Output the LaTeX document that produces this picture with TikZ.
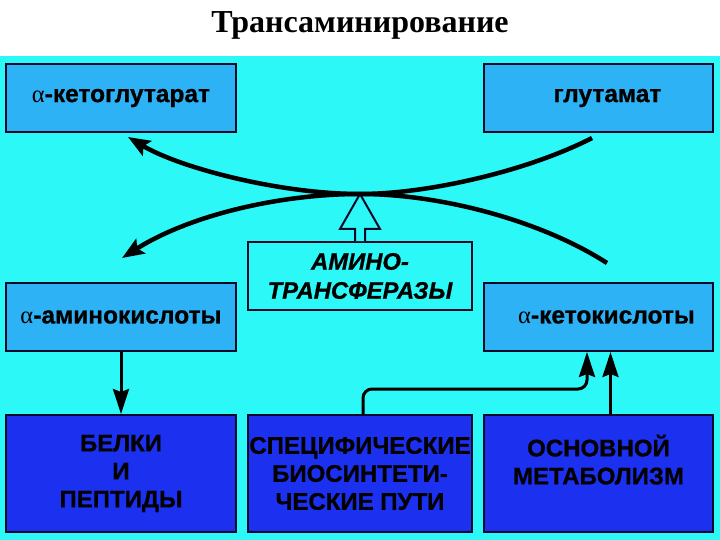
\documentclass[tikz,border=0pt]{standalone}
\usepackage{fontspec}
\setmainfont{Liberation Sans}
\newfontfamily\titlefont{Liberation Serif}
\newfontfamily\greekfont{Liberation Serif}
\newfontfamily\heavy[FakeBold=0.8]{Liberation Sans Bold}
\newfontfamily\heavyit[FakeBold=0.8]{Liberation Sans Bold Italic}
\usetikzlibrary{arrows.meta,calc}
\definecolor{bgcyan}{RGB}{45,248,248}
\definecolor{lightbox}{RGB}{45,178,245}
\definecolor{darkbox}{RGB}{28,48,240}
\definecolor{edgecol}{RGB}{10,10,40}
\newcommand{\galpha}{{\greekfont\mdseries α}}
\tikzset{
  basebox/.style={draw=edgecol, line width=2pt, inner sep=0pt, align=center, text=black},
  lbox/.style={basebox, fill=lightbox, minimum height=68pt, font=\heavy\fontsize{24.5}{28}\selectfont},
  dbox/.style={basebox, fill=darkbox, minimum height=117pt, font=\heavy\fontsize{24}{28}\selectfont},
  enzbox/.style={basebox, fill=bgcyan, minimum width=224pt, minimum height=68pt, font=\heavyit\fontsize{23.8}{29}\selectfont},
  curvearrow/.style={line width=4.5pt, -{Stealth[length=22pt,width=17pt,inset=4pt]}},
  curveline/.style={line width=4.5pt},
  straightarrow/.style={line width=3pt, -{Stealth[length=25pt,width=16pt,inset=3pt]}},
  hollowarrow/.style={draw=edgecol, line width=2pt, fill=bgcyan, line join=miter}
}
\begin{document}
\begin{tikzpicture}[x=1pt,y=-1pt]
\useasboundingbox (0,0) rectangle (720,540);
\fill[white] (0,0) rectangle (720,56);
\fill[bgcyan] (0,56) rectangle (720,540);

\node[anchor=base, font=\titlefont\bfseries\fontsize{32}{36}\selectfont] (title) at (360,33) {Трансаминирование};

% boxes
\node[lbox, minimum width=230pt] (kg) at (121,98) {\galpha-кетоглутарат};
\node[lbox, minimum width=229pt] (glu) at (598.5,98) {\hspace*{18pt}глутамат};
\node[lbox, minimum width=230pt] (ak) at (121,317) {\galpha-аминокислоты};
\node[lbox, minimum width=229pt] (keto) at (598.5,317) {\hspace*{16pt}\galpha-кетокислоты};
\node[enzbox] (amt) at (360,276) {АМИНО-\\ТРАНСФЕРАЗЫ};
\node[dbox, minimum width=230pt] (bel) at (121,473.5) {БЕЛКИ\\И\\ПЕПТИДЫ};
\node[dbox, minimum width=224pt] (spec) at (360,473.5) {СПЕЦИФИЧЕСКИЕ\\БИОСИНТЕТИ-\\ЧЕСКИЕ ПУТИ};
\node[dbox, minimum width=229pt] (osn) at (598.5,473.5) {ОСНОВНОЙ\\МЕТАБОЛИЗМ\\\mbox{}};

% hollow arrow from enzyme box
\draw[hollowarrow] ($(amt.north)+(-5,0)$) -- ++(0,-12) -- ++(-15,0) -- ++(20,-35) -- ++(20,35) -- ++(-15,0) -- ++(0,12);

% crossing curves
\coordinate (c) at (360,194);
\coordinate (gstart) at (592,138);
\coordinate (kend) at (607,263);
\coordinate (kgtip) at (128,137);
\coordinate (aktip) at (122,258);
\draw[curveline] (gstart) .. controls (530,170) and (430,194) .. (c);
\draw[curvearrow] (c) .. controls (280,194) and (190,215) .. (aktip);
\draw[curveline] (kend) .. controls (540,220) and (440,194) .. (c);
\draw[curvearrow] (c) .. controls (280,194) and (180,168) .. (kgtip);

% straight connectors
\draw[straightarrow] (ak.south) -- (bel.north);
\draw[straightarrow, rounded corners=9pt] ($(spec.north)+(3,0)$) -- ++(0,-25) -| ($(keto.south)+(-11.5,0)$);
\draw[straightarrow] ($(osn.north)+(12,0)$) -- ($(keto.south)+(12,0)$);
\end{tikzpicture}
\end{document}
